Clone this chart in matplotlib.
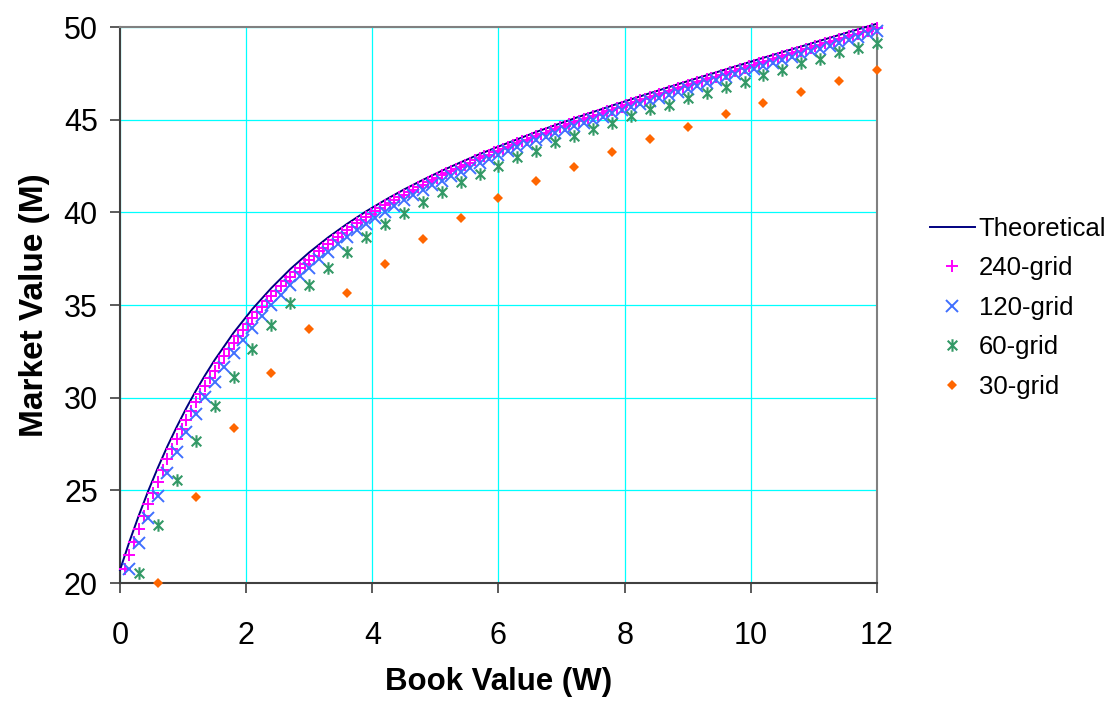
import matplotlib
matplotlib.use('Agg')
import matplotlib.pyplot as plt
from matplotlib.path import Path

plt.rcParams['font.family'] = ['Liberation Sans', 'DejaVu Sans']

# theoretical curve
x_theory = [0, 0.15, 0.3, 0.45, 0.6, 0.75, 0.9, 1.05, 1.2, 1.35, 1.5, 1.8, 2.1, 2.4, 2.7, 3.0,
            3.3, 3.6, 3.9, 4.2, 4.5, 4.8, 5.1, 5.4, 5.7, 6.0, 6.6, 7.2, 7.8, 8.4, 9.0,
            9.6, 10.2, 10.8, 11.4, 12.0]
y_theory = [20.70, 22.24, 23.66, 24.99, 26.22, 27.37, 28.43, 29.43, 30.36, 31.22, 32.03,
            33.50, 34.79, 35.92, 36.94, 37.84, 38.65, 39.38, 40.05, 40.66, 41.23, 41.75,
            42.24, 42.70, 43.14, 43.55, 44.34, 45.07, 45.76, 46.43, 47.08, 47.71, 48.34,
            48.95, 49.57, 50.18]

# 240-grid
x_240 = [0.075, 0.15, 0.225, 0.3, 0.375, 0.45, 0.525, 0.6, 0.675, 0.75,
         0.825, 0.9, 0.975, 1.05, 1.125, 1.2, 1.275, 1.35, 1.425, 1.5,
         1.575, 1.65, 1.725, 1.8, 1.875, 1.95, 2.025, 2.1, 2.175, 2.25,
         2.325, 2.4, 2.475, 2.55, 2.625, 2.7, 2.775, 2.85, 2.925, 3.0,
         3.075, 3.15, 3.225, 3.3, 3.375, 3.45, 3.525, 3.6, 3.675, 3.75,
         3.825, 3.9, 3.975, 4.05, 4.125, 4.2, 4.275, 4.35, 4.425, 4.5,
         4.575, 4.65, 4.725, 4.8, 4.875, 4.95, 5.025, 5.1, 5.175, 5.25,
         5.325, 5.4, 5.475, 5.55, 5.625, 5.7, 5.775, 5.85, 5.925, 6.0,
         6.075, 6.15, 6.225, 6.3, 6.375, 6.45, 6.525, 6.6, 6.675, 6.75,
         6.825, 6.9, 6.975, 7.05, 7.125, 7.2, 7.275, 7.35, 7.425, 7.5,
         7.575, 7.65, 7.725, 7.8, 7.875, 7.95, 8.025, 8.1, 8.175, 8.25,
         8.325, 8.4, 8.475, 8.55, 8.625, 8.7, 8.775, 8.85, 8.925, 9.0,
         9.075, 9.15, 9.225, 9.3, 9.375, 9.45, 9.525, 9.6, 9.675, 9.75,
         9.825, 9.9, 9.975, 10.05, 10.125, 10.2, 10.275, 10.35, 10.425, 10.5,
         10.575, 10.65, 10.725, 10.8, 10.875, 10.95, 11.025, 11.1, 11.175, 11.25,
         11.325, 11.4, 11.475, 11.55, 11.625, 11.7, 11.775, 11.85, 11.925, 12.0]
y_240 = [20.73, 21.49, 22.21, 22.91, 23.59, 24.24, 24.86, 25.47, 26.08, 26.67,
         27.23, 27.77, 28.29, 28.80, 29.28, 29.75, 30.20, 30.63, 31.05, 31.46,
         31.86, 32.24, 32.61, 32.97, 33.31, 33.65, 33.98, 34.30, 34.60, 34.90,
         35.19, 35.47, 35.75, 36.02, 36.27, 36.53, 36.77, 37.00, 37.23, 37.45,
         37.67, 37.89, 38.09, 38.29, 38.49, 38.68, 38.86, 39.04, 39.23, 39.40,
         39.57, 39.74, 39.90, 40.06, 40.22, 40.37, 40.52, 40.67, 40.81, 40.95,
         41.09, 41.22, 41.36, 41.49, 41.62, 41.74, 41.87, 41.99, 42.11, 42.23,
         42.35, 42.46, 42.58, 42.69, 42.80, 42.91, 43.02, 43.12, 43.23, 43.33,
         43.44, 43.54, 43.63, 43.73, 43.83, 43.93, 44.02, 44.12, 44.21, 44.30,
         44.40, 44.49, 44.58, 44.67, 44.76, 44.85, 44.94, 45.02, 45.11, 45.20,
         45.28, 45.37, 45.46, 45.54, 45.63, 45.71, 45.79, 45.88, 45.96, 46.04,
         46.13, 46.21, 46.29, 46.37, 46.45, 46.53, 46.62, 46.70, 46.78, 46.86,
         46.94, 47.02, 47.10, 47.18, 47.25, 47.33, 47.41, 47.49, 47.57, 47.65,
         47.73, 47.81, 47.88, 47.96, 48.04, 48.12, 48.19, 48.27, 48.35, 48.43,
         48.50, 48.58, 48.66, 48.73, 48.81, 48.89, 48.96, 49.04, 49.12, 49.19,
         49.27, 49.35, 49.42, 49.50, 49.58, 49.65, 49.73, 49.80, 49.88, 49.96]

# 120-grid
x_120 = [0.15, 0.3, 0.45, 0.6, 0.75, 0.9, 1.05, 1.2, 1.35, 1.5,
         1.65, 1.8, 1.95, 2.1, 2.25, 2.4, 2.55, 2.7, 2.85, 3.0,
         3.15, 3.3, 3.45, 3.6, 3.75, 3.9, 4.05, 4.2, 4.35, 4.5,
         4.65, 4.8, 4.95, 5.1, 5.25, 5.4, 5.55, 5.7, 5.85, 6.0,
         6.15, 6.3, 6.45, 6.6, 6.75, 6.9, 7.05, 7.2, 7.35, 7.5,
         7.65, 7.8, 7.95, 8.1, 8.25, 8.4, 8.55, 8.7, 8.85, 9.0,
         9.15, 9.3, 9.45, 9.6, 9.75, 9.9, 10.05, 10.2, 10.35, 10.5,
         10.65, 10.8, 10.95, 11.1, 11.25, 11.4, 11.55, 11.7, 11.85, 12.0]
y_120 = [20.74, 22.16, 23.49, 24.72, 25.92, 27.08, 28.13, 29.10, 30.01, 30.86,
         31.66, 32.40, 33.10, 33.77, 34.39, 34.98, 35.55, 36.07, 36.56, 37.02,
         37.47, 37.88, 38.29, 38.66, 39.03, 39.38, 39.72, 40.04, 40.35, 40.64,
         40.92, 41.19, 41.46, 41.71, 41.95, 42.19, 42.42, 42.65, 42.88, 43.09,
         43.31, 43.50, 43.71, 43.90, 44.09, 44.28, 44.47, 44.65, 44.82, 45.00,
         45.17, 45.34, 45.51, 45.68, 45.84, 46.01, 46.17, 46.33, 46.50, 46.66,
         46.82, 46.98, 47.13, 47.29, 47.45, 47.61, 47.76, 47.92, 48.07, 48.23,
         48.38, 48.53, 48.69, 48.84, 48.99, 49.15, 49.30, 49.45, 49.60, 49.76]

# 60-grid
x_60 = [0.3, 0.6, 0.9, 1.2, 1.5, 1.8, 2.1, 2.4, 2.7, 3.0,
        3.3, 3.6, 3.9, 4.2, 4.5, 4.8, 5.1, 5.4, 5.7, 6.0,
        6.3, 6.6, 6.9, 7.2, 7.5, 7.8, 8.1, 8.4, 8.7, 9.0,
        9.3, 9.6, 9.9, 10.2, 10.5, 10.8, 11.1, 11.4, 11.7, 12.0]
y_60 = [20.52, 23.13, 25.56, 27.66, 29.53, 31.10, 32.63, 33.92, 35.09, 36.06,
        37.02, 37.85, 38.66, 39.36, 39.95, 40.58, 41.12, 41.66, 42.07, 42.52,
        42.97, 43.33, 43.78, 44.12, 44.48, 44.84, 45.20, 45.56, 45.80, 46.16,
        46.43, 46.78, 47.05, 47.42, 47.68, 48.05, 48.28, 48.64, 48.89, 49.16]

# 30-grid
x_30 = [0.6, 1.2, 1.8, 2.4, 3.0, 3.6, 4.2, 4.8, 5.4, 6.0,
        6.6, 7.2, 7.8, 8.4, 9.0, 9.6, 10.2, 10.8, 11.4, 12.0]
y_30 = [20.0, 24.64, 28.36, 31.32, 33.69, 35.63, 37.23, 38.55, 39.72, 40.77,
        41.67, 42.45, 43.25, 43.96, 44.60, 45.29, 45.90, 46.50, 47.07, 47.67]

# excel style asterisk: an x with a vertical bar
star = Path([(-1, -1), (1, 1), (-1, 1), (1, -1), (0, -1.3), (0, 1.3)],
            [Path.MOVETO, Path.LINETO, Path.MOVETO, Path.LINETO, Path.MOVETO, Path.LINETO])

fig = plt.figure(figsize=(11.09, 7.02), dpi=100)
ax = fig.add_axes([0.1082, 0.1695, 0.6826, 0.792])

ax.plot(x_theory, y_theory, color='#000080', lw=1.4, clip_on=False, zorder=3, label='Theoretical')
ax.plot(x_240, y_240, ls='none', marker='+', ms=9, mew=1.4, color='#FF00FF', clip_on=False, zorder=4, label='240-grid')
ax.plot(x_120, y_120, ls='none', marker='x', ms=8, mew=1.4, color='#3F6FFF', clip_on=False, zorder=4, label='120-grid')
ax.plot(x_60, y_60, ls='none', marker=star, ms=9, mew=1.5, color='#339966', clip_on=False, zorder=4, label='60-grid')
ax.plot(x_30, y_30, ls='none', marker='D', ms=5.5, mew=0, color='#FF6600', clip_on=False, zorder=4, label='30-grid')

ax.set_xlim(0, 12)
ax.set_ylim(20, 50)
ax.set_xticks([0, 2, 4, 6, 8, 10, 12])
ax.set_yticks([20, 25, 30, 35, 40, 45, 50])
ax.grid(True, color='#00FFFF', lw=0.9)
ax.set_axisbelow(True)

for s in ['left', 'bottom']:
    ax.spines[s].set_color('#404040')
    ax.spines[s].set_linewidth(1.5)
for s in ['top', 'right']:
    ax.spines[s].set_color('#808080')
    ax.spines[s].set_linewidth(1.5)

ax.tick_params(axis='both', direction='out', length=7, width=1.2, color='#404040', labelsize=22)
ax.tick_params(axis='x', pad=20)
ax.tick_params(axis='y', pad=9)

ax.set_xlabel('Book Value (W)', fontsize=22.5, fontweight='bold', labelpad=12)
ax.set_ylabel('Market Value (M)', fontsize=24, fontweight='bold', labelpad=10)

ax.legend(loc='upper left', bbox_to_anchor=(0.8386, 0.6909), bbox_transform=fig.transFigure,
          frameon=False, fontsize=18.5, handlelength=1.75, handletextpad=0.15,
          labelspacing=0.6, borderpad=0, borderaxespad=0)

fig.savefig('out.png', dpi=100)
